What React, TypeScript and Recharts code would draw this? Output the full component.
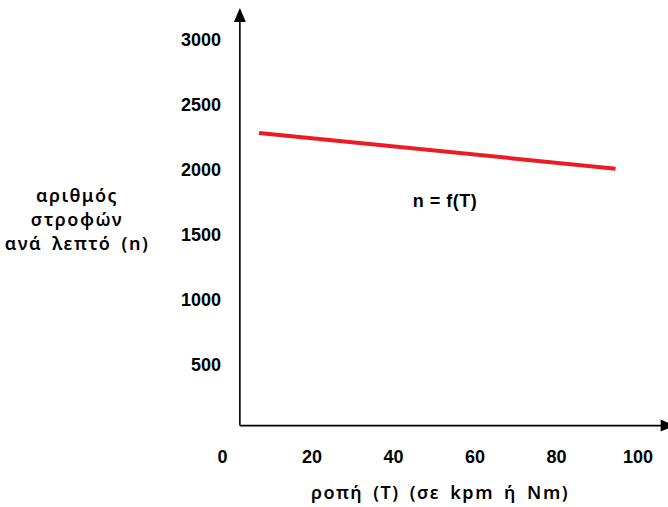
import React from 'react';
import { LineChart, Line, XAxis, YAxis, ReferenceLine, Label } from 'recharts';

// Data
const torque = [7, 94.5];
const speed = [2285, 2010];
const xTicks = [0, 20, 40, 60, 80, 100];
const yTicks = [500, 1000, 1500, 2000, 2500, 3000];
const yLabelLines = ['αριθμός', 'στροφών', 'ανά λεπτό (n)'];
const xLabelText = 'ροπή (T) (σε kpm ή Nm)';
const curveLabel = 'n = f(T)';

// Axis decoration positions (data units)
const axisX0 = 2.3;
const axisY0 = 34;
const xAxisEnd = 109;
const yAxisEnd = 3246;

const data = torque.map((t, i) => ({ t, n: speed[i] }));

const FONT = '"Liberation Sans", Arial, sans-serif';
const LABEL_FONT = '"Noto Sans", "DejaVu Sans", sans-serif';

const ArrowLine = (props: any) => {
  const { x1, y1, x2, y2 } = props;
  const dx = x2 - x1;
  const dy = y2 - y1;
  const len = Math.sqrt(dx * dx + dy * dy) || 1;
  const ux = dx / len;
  const uy = dy / len;
  const headLen = 14;
  const headW = 6;
  const bx = x2 - ux * headLen;
  const by = y2 - uy * headLen;
  const px = -uy;
  const py = ux;
  const pts = `${x2},${y2} ${bx + px * headW},${by + py * headW} ${bx - px * headW},${by - py * headW}`;
  return (
    <g>
      <line x1={x1} y1={y1} x2={bx + ux * 2} y2={by + uy * 2} stroke="#000" strokeWidth={1.6} />
      <polygon points={pts} fill="#000" />
    </g>
  );
};

const XTick = (props: any) => {
  const { x, y, payload } = props;
  return (
    <text
      x={x}
      y={y}
      dx={payload.value === 0 ? -8 : 0}
      dy={33}
      textAnchor="middle"
      fontFamily={FONT}
      fontWeight="bold"
      fontSize={18}
      fill="#000"
    >
      {payload.value}
    </text>
  );
};

const YTick = (props: any) => {
  const { x, y, payload } = props;
  return (
    <text
      x={x}
      y={y}
      dy="0.355em"
      textAnchor="end"
      fontFamily={FONT}
      fontWeight="bold"
      fontSize={18}
      fill="#000"
    >
      {payload.value}
    </text>
  );
};

const labelStyle = {
  fontFamily: LABEL_FONT,
  fontWeight: 600,
  fontSize: 18,
  fill: '#000',
  letterSpacing: 1.5,
  wordSpacing: 4,
};

const YLabelContent = () => (
  <g>
    {yLabelLines.map((line, i) => (
      <text key={i} x={77} y={202 + i * 24} textAnchor="middle" style={labelStyle}>
        {line}
      </text>
    ))}
    <text
      x={445}
      y={207}
      textAnchor="middle"
      style={{ fontFamily: FONT, fontWeight: 'bold', fontSize: 18, fill: '#000', letterSpacing: 0.5 }}
    >
      {curveLabel}
    </text>
  </g>
);

const XLabelContent = () => (
  <text x={440} y={499} textAnchor="middle" style={labelStyle}>
    {xLabelText}
  </text>
);

export default function App() {
  return (
    <div style={{ position: 'absolute', left: 0, top: 0, background: '#fff' }}>
      <LineChart
        width={668}
        height={507}
        data={data}
        margin={{ top: 40, right: 30, bottom: 47, left: 170.5 }}
      >
        <XAxis
          dataKey="t"
          type="number"
          domain={[0, 100]}
          ticks={xTicks}
          axisLine={false}
          tickLine={false}
          tickSize={0}
          tickMargin={0}
          height={30}
          tick={<XTick />}
          interval={0}
        >
          <Label content={<XLabelContent />} />
        </XAxis>
        <YAxis
          type="number"
          domain={[0, 3000]}
          ticks={yTicks}
          axisLine={false}
          tickLine={false}
          tickSize={0}
          tickMargin={9.5}
          width={60}
          tick={<YTick />}
          interval={0}
        >
          <Label content={<YLabelContent />} />
        </YAxis>
        <ReferenceLine
          segment={[{ x: axisX0, y: axisY0 }, { x: axisX0, y: yAxisEnd }]}
          ifOverflow="visible"
          shape={ArrowLine}
        />
        <ReferenceLine
          segment={[{ x: axisX0, y: axisY0 }, { x: xAxisEnd, y: axisY0 }]}
          ifOverflow="visible"
          shape={ArrowLine}
        />
        <Line
          dataKey="n"
          stroke="#ed1c24"
          strokeWidth={4}
          dot={false}
          isAnimationActive={false}
        />
      </LineChart>
    </div>
  );
}
